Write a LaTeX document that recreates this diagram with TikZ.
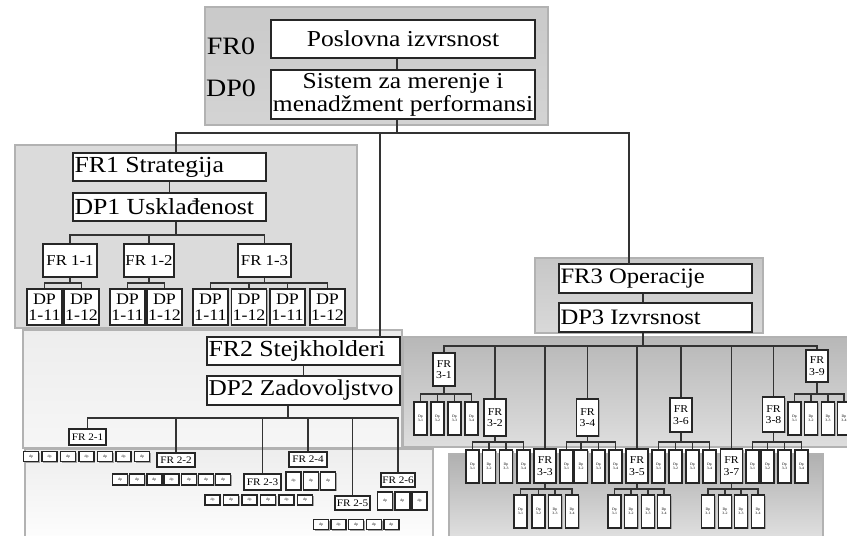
\documentclass[tikz,border=0pt]{standalone}
\usepackage{fontspec}
\setmainfont[FakeStretch=1.12]{Liberation Serif}
\usepackage{tikz}
\usetikzlibrary{shadows}

\tikzset{
  panel/.style={draw=gray!60, line width=1.5pt},
  box/.style={draw=black!85, line width=1.3pt, fill=white, inner sep=0pt, align=center,
    drop shadow={shadow xshift=1.3pt, shadow yshift=-1.3pt, fill=gray!70, opacity=1}},
  bigbox/.style={box, text width=190, inner xsep=1.5pt, align=flush left, minimum height=28,
    font=\fontsize{23}{23}\selectfont},
  lbl/.style={font=\fontsize{25}{25}\selectfont},
  frmid/.style={box, font=\fontsize{15}{15}\selectfont},
  dpmid/.style={box, line width=1.6pt, minimum width=35, minimum height=36, font=\fontsize{16}{16}\selectfont},
  frsmall/.style={box, font=\fontsize{10}{10}\selectfont},
  frtall/.style={box, line width=1.5pt, minimum width=22, font=\fontsize{10.5}{11.5}\selectfont},
  dpsmall/.style={box, line width=1.6pt, minimum width=13, minimum height=33, font=\fontsize{3.5}{4}\selectfont},
  dptiny/.style={box, line width=1.5pt, minimum width=15, font=\fontsize{3.5}{4}\selectfont},
  link/.style={draw=black!80, line width=1.7pt},
  thinlink/.style={draw=black!80, line width=1.1pt},
}

\begin{document}
\begin{tikzpicture}[x=1pt, y=-1pt]
    \fill[white] (0,0) rectangle (847,536);
    \useasboundingbox (0,0) rectangle (847,536);

    % Panels
    \draw[panel, top color=gray!42, bottom color=gray!34] (205,7) rectangle (548,125);
    \draw[panel, fill=gray!28] (15,145) rectangle (357,328);
    \draw[panel, top color=gray!14, bottom color=gray!7] (23,330) rectangle (402,448);
    \draw[panel, top color=gray!14, bottom color=white] (25,449) rectangle (433,548);
    \draw[panel, top color=gray!44, bottom color=gray!30] (535,258) rectangle (763,333);
    \draw[panel, top color=gray!56, bottom color=gray!26] (403,337) rectangle (860,447);
    \draw[panel, top color=gray!62, bottom color=gray!20] (449,454) rectangle (823,548);

    % Level 0
    \node[lbl] (fr0lbl) at (231,46) {FR0};
    \node[lbl] (dp0lbl) at (231,88) {DP0};
    \node[box, minimum width=264, minimum height=38, font=\fontsize{22.8}{23}\selectfont] (fr0) at (403,39) {Poslovna izvrsnost};
    \node[box, minimum width=264, minimum height=49, font=\fontsize{22.8}{23}\selectfont] (dp0) at (403,94.5) {Sistem za merenje i\\menadžment performansi};
    \draw[link] (fr0.south -| 397,0) -- (dp0.north -| 397,0);

    % Level 1
    \node[bigbox] (fr1) at (169.5,167) {FR1 Strategija};
    \node[bigbox] (dp1) at (169.5,207) {DP1 Usklađenost};
    \node[bigbox] (fr2) at (303.5,351) {FR2 Stejkholderi};
    \node[bigbox, minimum height=29, font=\fontsize{22.6}{23}\selectfont] (dp2) at (303.5,390.5) {DP2 Zadovoljstvo};
    \node[bigbox, minimum height=29, font=\fontsize{22}{22}\selectfont] (fr3) at (655.5,278.5) {FR3 Operacije};
    \node[bigbox, minimum height=29, font=\fontsize{22}{22}\selectfont] (dp3) at (655.5,317.5) {DP3 Izvrsnost};
    \draw[link] (fr1) -- (dp1);
    \draw[thinlink] (fr2) -- (dp2);
    \draw[link] (fr3.south -| 643,0) -- (dp3.north -| 643,0);

    \coordinate (bus0) at (397,133);
    \coordinate (fr1in) at (176,152);
    \coordinate (fr2in) at (380,337);
    \coordinate (fr3in) at (629,264);
    \draw[link] (dp0.south -| bus0) -- (bus0);
    \draw[link] (fr1in) |- (bus0) -| (fr3in);
    \draw[thinlink] (fr2in) -- (fr2in |- bus0);

    % FR1 branch
    \node[frmid, minimum width=54, minimum height=33] (fr11) at (70,260.5) {FR 1-1};
    \node[frmid, minimum width=50, minimum height=33] (fr12) at (149,260.5) {FR 1-2};
    \node[frmid, minimum width=53, minimum height=33] (fr13) at (264.5,260.5) {FR 1-3};
    \coordinate (bus1) at (176,235);
    \draw[link] (dp1.south -| bus1) -- (bus1);
    \draw[thinlink] (fr11.north) |- (bus1) -| (fr13.north);
    \draw[thinlink] (fr12.north) -- (fr12.north |- bus1);
    \foreach \grp/\xs in {fr11/{44.5/11,81.5/12}, fr12/{127.5/11,164.5/12},
                          fr13/{210.5/11,249/12,287.5/11,327.5/12}}
      \foreach \x/\t [count=\i] in \xs {
        \node[dpmid] (\grp-\i) at (\x,307) {DP\\1-\t};
        \draw[thinlink] (\grp.south) |- (\grp-\i.north |- 0,283) -- (\grp-\i.north);
      }

    % FR2 branch
    \node[frsmall, minimum width=37, minimum height=16] (fr21) at (87.5,437) {FR 2-1};
    \node[frsmall, minimum width=38, minimum height=14] (fr22) at (176,460) {FR 2-2};
    \node[frsmall, minimum width=37, minimum height=16] (fr23) at (262.5,482) {FR 2-3};
    \node[frsmall, minimum width=38, minimum height=15] (fr24) at (308,459.5) {FR 2-4};
    \node[frsmall, minimum width=35, minimum height=14] (fr25) at (352.5,503) {FR 2-5};
    \node[frsmall, minimum width=34, minimum height=14] (fr26) at (398,480) {FR 2-6};
    \coordinate (bus2) at (288,418);
    \draw[link] (dp2.south -| bus2) -- (bus2);
    \draw[link] (fr21.north) |- (bus2) -| (fr26.north);
    \foreach \n in {fr22,fr23,fr25}
      \draw[link] (\n.north) -- (\n.north |- bus2);
    \draw[thinlink] (fr24.north) -- (fr24.north |- bus2);
    \foreach \grp/\x/\y/\n/\d/\h in {fr21/31/456.5/7/18.5/10, fr22/120/479.5/7/17.2/11,
                                     fr23/212.5/500/6/18.5/10, fr24/293.5/481/3/17.3/18,
                                     fr25/321/524.5/5/17.6/10, fr26/385/501/3/17.3/18}
      \foreach \i in {1,...,\n}
        \node[dptiny, minimum height=\h] (\grp-\i) at (\x+\d*\i-\d,\y) {dp};

    % FR3 branch
    \foreach \k/\x/\y/\h in {1/444/369.5/33, 2/495/417.5/37, 3/545/466/34, 4/587.5/417.5/37,
                             5/637/466/34, 6/681/415/34, 7/731.5/466/34, 8/773.5/414.5/35,
                             9/817/366/32}
      \node[frtall, minimum height=\h] (fr3\k) at (\x,\y) {FR\\3-\k};
    \coordinate (bus3) at (643,346);
    \draw[link] (dp3.south -| bus3) -- (bus3);
    \draw[link] (fr31.north) |- (bus3) -| (fr39.north);
    \foreach \k in {2,4,6,8}
      \draw[thinlink] (fr3\k.north) -- (fr3\k.north |- bus3);
    \foreach \k in {3,5,7}
      \draw[link] (fr3\k.north) -- (fr3\k.north |- bus3);
    \foreach \grp/\yb/\yc/\xs in {fr31/394/418.5/{420.5,437.5,454.5,471.5},
                                  fr39/394/418.5/{794.5,811,828,844},
                                  fr32/442/466.5/{472.5,489,506,523.5},
                                  fr34/442/466.5/{566.5,581,598.5,615.5},
                                  fr36/442/466.5/{658.5,675.5,692.5,709.5},
                                  fr38/442/466.5/{752.5,767.5,784.5,801.5},
                                  fr33/489/511.5/{520.5,538.5,555,572},
                                  fr35/489/511.5/{614.5,631,648,664},
                                  fr37/489/511.5/{708,725,741,758}}
      \foreach \x [count=\i] in \xs {
        \node[dpsmall] (\grp-\i) at (\x,\yc) {Dp\\3-\i};
        \draw[link] (\grp.south) |- (\grp-\i.north |- 0,\yb) -- (\grp-\i.north);
      }
\end{tikzpicture}
\end{document}
